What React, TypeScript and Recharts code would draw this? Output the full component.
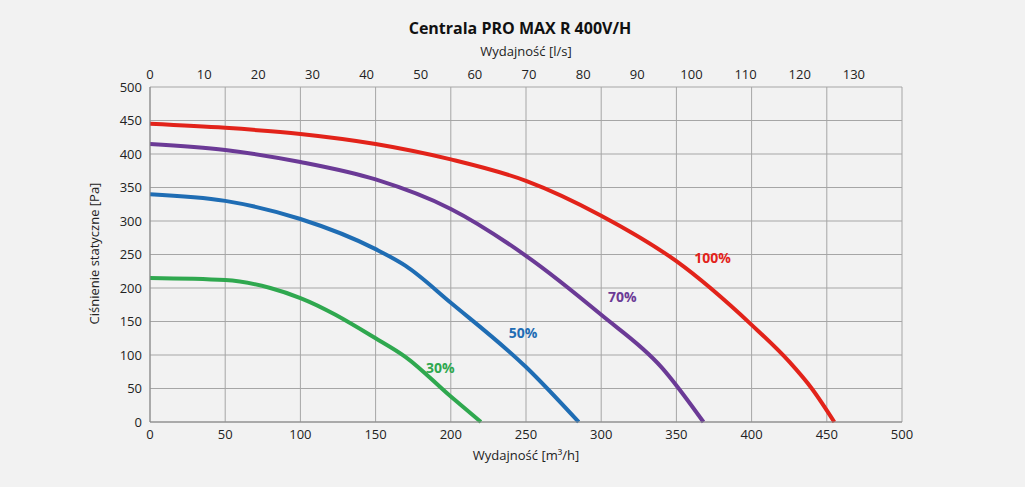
import React from "react";
import { LineChart, Line, XAxis, YAxis, CartesianGrid, ReferenceDot } from "recharts";

const xTicks = [0, 50, 100, 150, 200, 250, 300, 350, 400, 450, 500];
const lsTicks = [0, 10, 20, 30, 40, 50, 60, 70, 80, 90, 100, 110, 120, 130];
const yTicks = [0, 50, 100, 150, 200, 250, 300, 350, 400, 450, 500];

const s100 = [[0,445],[50,439],[100,430],[150,415],[200,392],[250,360],[300,308],[350,240],[400,145],[425,90],[440,50],[455,0]];
const s70 = [[0,415],[50,406],[100,388],[150,362],[200,318],[250,248],[300,160],[340,82],[368,0]];
const s50 = [[0,340],[50,330],[100,303],[150,258],[170,233],[200,178],[250,82],[285,0]];
const s30 = [[0,215],[50,212],[80,200],[100,185],[150,125],[170,97],[200,38],[220,0]];

const series = [
  { name: "100%", pts: s100, color: "#e2231a", lx: 374, ly: 244 },
  { name: "70%", pts: s70, color: "#6b3a96", lx: 314, ly: 186 },
  { name: "50%", pts: s50, color: "#1f6db4", lx: 248, ly: 133 },
  { name: "30%", pts: s30, color: "#2fa84f", lx: 193, ly: 81 },
];

const font = "'Open Sans', sans-serif";
const tick = { fill: "#222", fontSize: 13, fontFamily: font };

export default function App() {
  return (
    <div style={{ position: "absolute", left: 0, top: 0, width: 1025, height: 487, background: "#f2f2f2", fontFamily: font }}>
      <div style={{ position: "absolute", top: 17, width: 1040, textAlign: "center", fontWeight: 700, fontSize: 16, color: "#111" }}>
        Centrala PRO MAX R 400V/H
      </div>
      <LineChart width={1025} height={487} margin={{ top: 50, right: 123, bottom: 25, left: 90 }}>
        <CartesianGrid stroke="#a6a6a6" strokeWidth={1} horizontal vertical
          verticalCoordinatesGenerator={(p: any) => xTicks.map((t) => p.offset.left + (t / 500) * p.offset.width)} />
        <XAxis xAxisId="b" type="number" dataKey="x" domain={[0, 500]} ticks={xTicks} tick={tick}
          stroke="#888" tickLine={false} height={40} allowDataOverflow
          label={{ value: "Wydajność [m³/h]", position: "insideBottom", offset: 2, fill: "#222", fontSize: 13, fontFamily: font }} />
        <XAxis xAxisId="t" orientation="top" type="number" dataKey="x" domain={[0, 500 / 3.6]} ticks={lsTicks} tick={tick}
          axisLine={false} tickLine={false} height={37} allowDataOverflow
          label={{ value: "Wydajność [l/s]", position: "insideTop", offset: -3, fill: "#222", fontSize: 13, fontFamily: font }} />
        <YAxis type="number" domain={[0, 500]} ticks={yTicks} tick={tick} stroke="#888" tickLine={false} width={60}
          label={{ value: "Ciśnienie statyczne [Pa]", angle: -90, position: "insideLeft", offset: 4, dy: 70, fill: "#222", fontSize: 13, fontFamily: font }} />
        <Line xAxisId="t" data={s100.map(([x, y]) => ({ x: x / 3.6, y }))} dataKey="y" stroke="none"
          strokeOpacity={0} dot={false} activeDot={false} isAnimationActive={false} />
        {series.map((s) => (
          <Line key={s.name} xAxisId="b" data={s.pts.map(([x, y]) => ({ x, y }))} dataKey="y" type="monotone"
            stroke={s.color} strokeWidth={4} dot={false} isAnimationActive={false} />
        ))}
        {series.map((s) => (
          <ReferenceDot key={"l" + s.name} xAxisId="b" x={s.lx} y={s.ly} r={0} fill="none" stroke="none"
            label={{ value: s.name, position: "center", fill: s.color, fontWeight: 700, fontSize: 14, fontFamily: font }} />
        ))}
      </LineChart>
    </div>
  );
}
